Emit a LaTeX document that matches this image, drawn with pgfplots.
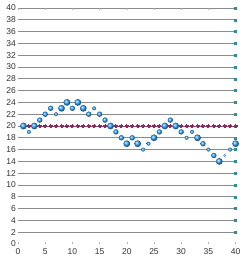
\documentclass[border=0pt]{standalone}
\usepackage{fontspec}
\setmainfont{Liberation Sans}
\usepackage{pgfplots}
\pgfplotsset{compat=1.18}
\definecolor{ballblue}{RGB}{45,160,250}
\definecolor{redline}{RGB}{140,40,90}
\definecolor{sqteal}{RGB}{50,140,150}
\definecolor{gridgray}{RGB}{140,140,140}
\begin{document}
\begin{tikzpicture}
\path[use as bounding box] (-18bp,-18bp) rectangle (225bp,244bp);
\begin{axis}[
  at={(0,0)}, anchor=south west,
  scale only axis, width=217.6bp, height=236bp,
  xmin=0, xmax=40, ymin=0, ymax=40,
  clip=false,
  axis line style={draw=none},
  xtick={0,5,...,40},
  ytick={2,4,...,40},
  extra y ticks={0},
  extra y tick style={grid=none},
  ymajorgrids,
  grid style={gridgray, line width=0.6bp},
  ytick style={draw=none},
  xtick style={gray!60, line width=0.5bp},
  major tick length=2bp,
  /pgf/number format/assume math mode=true,
  ticklabel style={font=\fontsize{8.5bp}{10bp}\selectfont, text=black!80},
  yticklabel style={inner sep=0pt, xshift=-2bp},
  xticklabel style={inner sep=0pt, yshift=-4bp},
]
% teal squares at right end of grid lines
\addplot[only marks, mark=square*, mark size=1bp, color=sqteal] coordinates {
(40,2)(40,4)(40,6)(40,8)(40,10)(40,12)(40,14)(40,16)(40,18)(40,20)
(40,22)(40,24)(40,26)(40,28)(40,30)(40,32)(40,34)(40,36)(40,38)(40,40)};
% constant series
\addplot[color=redline, line width=0.3bp, mark=*, mark size=1.5bp, mark options={line width=0bp}] coordinates {
(1,20)(2,20)(3,20)(4,20)(5,20)(6,20)(7,20)(8,20)(9,20)(10,20)
(11,20)(12,20)(13,20)(14,20)(15,20)(16,20)(17,20)(18,20)(19,20)(20,20)
(21,20)(22,20)(23,20)(24,20)(25,20)(26,20)(27,20)(28,20)(29,20)(30,20)
(31,20)(32,20)(33,20)(34,20)(35,20)(36,20)(37,20)(38,20)(39,20)(40,20)};
% blue balls, large
\addplot[only marks, mark=ball, mark size=3.4bp, ball color=ballblue, draw=none, mark options={draw=none}] coordinates {
(1,20)(3,20)(8,23)(9,24)(11,24)(12,23)(17,20)(20,17)(22,17)(25,18)(27,20)(29,20)(33,18)(37,14)(40,17)};
% medium
\addplot[only marks, mark=ball, mark size=2.7bp, ball color=ballblue, draw=none, mark options={draw=none}] coordinates {
(4,21)(5,22)(6,23)(10,23)(13,22)(15,22)(16,21)(18,19)(19,18)(21,18)(26,19)(28,21)(30,19)(34,17)(36,15)};
% small
\addplot[only marks, mark=ball, mark size=2.0bp, ball color=ballblue, draw=none, mark options={draw=none}] coordinates {
(2,19)(7,22)(14,23)(23,16)(24,17)(31,18)(32,19)(35,16)(39,16)};
% tiny
\addplot[only marks, mark=ball, mark size=1.4bp, ball color=ballblue, draw=none, mark options={draw=none}] coordinates {
(38,15)};
\end{axis}
\end{tikzpicture}
\end{document}
